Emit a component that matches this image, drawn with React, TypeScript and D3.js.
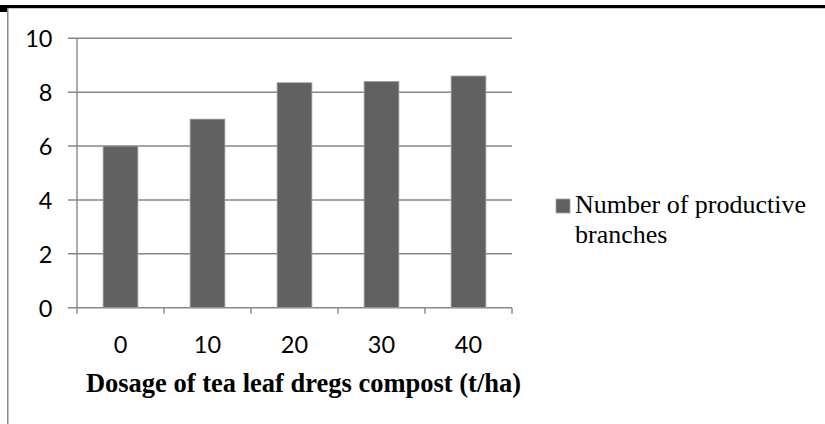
import React from "react";
import * as d3 from "d3";

const categories = ["0", "10", "20", "30", "40"];
const branches = [6.0, 7.0, 8.35, 8.4, 8.6];
const yTicks = [0, 2, 4, 6, 8, 10];
const seriesName = ["Number of productive", "branches"];
const xTitle = "Dosage of tea leaf dregs compost (t/ha)";

const W = 825;
const H = 424;
const left = 77;
const right = 512;
const top = 38.3;
const bottom = 307.7;

export default function App() {
  const x = d3
    .scaleBand<string>()
    .domain(categories)
    .range([left, right])
    .paddingInner(0.6)
    .paddingOuter(0.3);
  const y = d3.scaleLinear().domain([0, 10]).range([bottom, top]);
  const step = x.step();
  const boundaries = d3.range(categories.length + 1).map((i) => left + i * step);
  const tickFont = "Lato, 'Open Sans', sans-serif";
  const serif = "'Liberation Serif', 'Times New Roman', serif";
  const grid = "#878787";

  return (
    <svg
      width={W}
      height={H}
      style={{ position: "absolute", left: 0, top: 0, background: "#fff" }}
    >
      {/* outer frame fragments */}
      <rect x={0} y={5} width={W} height={3} fill="#000" />
      <rect x={0} y={8} width={W} height={1} fill="#c8c8c8" />
      <rect x={0} y={5} width={7} height={7} fill="#000" />
      <rect x={7} y={8} width={1.5} height={H - 8} fill="#8a8a8a" />

      {/* gridlines and y ticks */}
      {yTicks.map((t) => (
        <g key={t}>
          <line x1={68} x2={right} y1={y(t)} y2={y(t)} stroke={grid} strokeWidth={1.4} />
          <text
            x={52.5}
            y={y(t)}
            textAnchor="end"
            dominantBaseline="central"
            fontFamily={tickFont}
            fontSize={23.5}
            fill="#000"
          >
            {t}
          </text>
        </g>
      ))}
      {/* y axis */}
      <line x1={left} x2={left} y1={top} y2={bottom} stroke={grid} strokeWidth={1.4} />

      {/* bars */}
      {categories.map((c, i) => (
        <rect
          key={c}
          x={x(c)}
          y={y(branches[i])}
          width={x.bandwidth()}
          height={bottom - y(branches[i])}
          fill="#616161"
          stroke="#a3a3a3"
          strokeWidth={0.8}
        />
      ))}

      {/* x axis ticks */}
      {boundaries.map((b, i) => (
        <line key={i} x1={b} x2={b} y1={bottom} y2={bottom + 6} stroke={grid} strokeWidth={1.4} />
      ))}
      {categories.map((c) => (
        <text
          key={c}
          x={(x(c) as number) + x.bandwidth() / 2}
          y={343.5}
          textAnchor="middle"
          dominantBaseline="central"
          fontFamily={tickFont}
          fontSize={23.5}
          fill="#000"
        >
          {c}
        </text>
      ))}

      {/* x title */}
      <text
        x={303.5}
        y={392}
        textAnchor="middle"
        fontFamily={serif}
        fontWeight="bold"
        fontSize={26.5}
        fill="#000"
      >
        {xTitle}
      </text>

      {/* legend */}
      <rect x={556} y={199} width={14} height={14} fill="#616161" stroke="#a3a3a3" strokeWidth={0.8} />
      {seriesName.map((s, i) => (
        <text
          key={i}
          x={575}
          y={213 + i * 30}
          fontFamily={serif}
          fontSize={26}
          fill="#000"
        >
          {s}
        </text>
      ))}
    </svg>
  );
}
